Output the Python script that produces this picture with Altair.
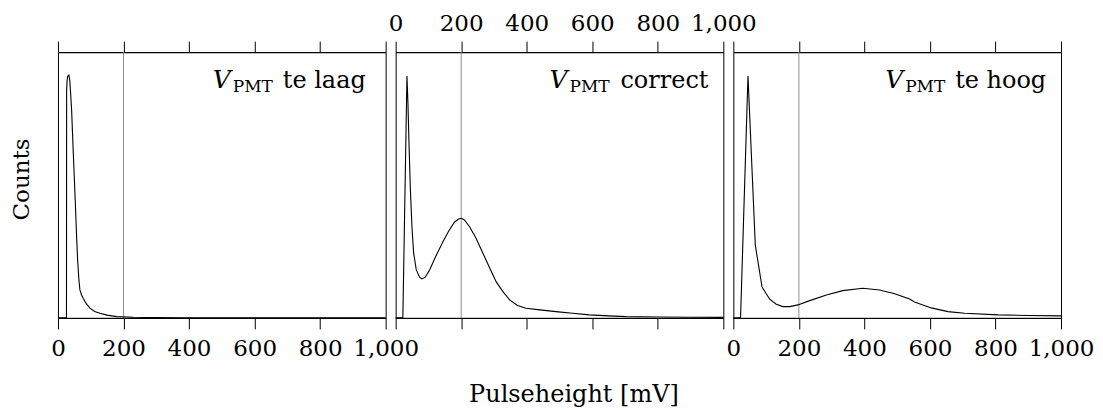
import altair as alt
import pandas as pd

# ---- data (pulse height in mV, counts in arbitrary units) ----
low_x = [0, 26, 26.5, 28, 30, 33.5, 36, 38.6, 41.7, 46.8, 51.8, 57, 60, 64, 67, 72, 77, 87,
         97.6, 112, 128, 150, 179, 230, 300, 380, 500, 700, 1000]
low_y = [0, 0, 228, 238, 242, 243, 238, 225, 208, 165, 125, 81, 58, 38, 28, 23, 19.7, 14,
         9.7, 6.5, 4.7, 2.8, 1.3, 0.6, 0.3, 0.1, 0, 0, 0]

ok_x = [0, 22, 34.5, 37.5, 40.7, 44.7, 49.8, 54.9, 63, 73, 80, 90, 103.7, 120, 144, 162, 180,
        192, 200, 210, 226, 245, 266, 287, 307, 328, 348, 372, 398, 440, 489, 540, 591, 650,
        703, 800, 900, 1000]
ok_y = [0, 0, 242, 215, 175, 131, 91, 65, 48, 40.7, 39, 40.5, 48, 60, 76, 87, 96,
        99, 99.7, 98, 91, 80, 65, 50, 36, 26, 18, 12.5, 9.7, 8, 6.3, 4.7, 3, 2,
        1.3, 0.9, 0.6, 0.5]

high_x = [0, 22, 44.7, 67, 87.5, 111, 131, 151, 172, 197, 233, 284, 334, 395, 446, 490, 538,
          553, 604, 655, 706, 808, 900, 1000]
high_y = [0, 0, 242, 73, 31, 18.7, 13.7, 11.3, 11.3, 13, 17.3, 23, 27.3, 29.7, 28, 24.5, 19,
          16, 10, 6.3, 4.7, 3, 2.4, 2]

panel_titles = ["te laag", "correct", "te hoog"]
tick_values = [0, 200, 400, 600, 800, 1000]
marker_x = [200]

# ---- style ----
FONT = "DejaVu Serif"
W, H = 328, 266
YMAX = 266
title_pos = [(155, 175, 225), (154, 174, 225), (152, 172, 222)]
xscale = alt.Scale(domain=[0, 1000], nice=False, zero=False)


def panel(xs, ys, rest, label_side, pos, first=False, xtitle=None):
    df = pd.DataFrame({"x": xs, "y": ys, "i": list(range(len(xs)))})
    bottom_kw = dict(orient="bottom", values=tick_values, format=",.0f", labels=(label_side == "bottom"),
                     tickSize=11, labelPadding=9, labelFlush=False, grid=False)
    if xtitle:
        bottom_kw.update(title=xtitle, titleX=178, titleY=84, titleAlign="center",
                         titleBaseline="alphabetic", titleFontSize=24)
    else:
        bottom_kw.update(title=None)
    top_axis = alt.Axis(orient="top", values=tick_values, format=",.0f", labels=(label_side == "top"),
                        tickSize=11, labelPadding=6, labelFlush=False, grid=False, title=None)
    if first:
        yaxis = alt.Axis(title="Counts", labels=False, ticks=False, domain=False, grid=False,
                         titleX=-29, titleY=127, titleAngle=270, titleAlign="center",
                         titleBaseline="alphabetic", titleFontSize=23)
    else:
        yaxis = None

    rule = alt.Chart(pd.DataFrame({"x": marker_x})).mark_rule(color="#909090", strokeWidth=1).encode(
        x=alt.X("x:Q", scale=xscale, axis=top_axis)
    )
    line = alt.Chart(df).mark_line(color="black", strokeWidth=1.1).encode(
        x=alt.X("x:Q", scale=xscale, axis=alt.Axis(**bottom_kw)),
        y=alt.Y("y:Q", scale=alt.Scale(domain=[0, YMAX], nice=False), axis=yaxis),
        order="i:Q",
    )
    vx, px, rx = pos
    t_v = alt.Chart(pd.DataFrame({"t": ["V"]})).mark_text(
        align="left", baseline="alphabetic", font=FONT, fontSize=25, fontStyle="italic", color="black"
    ).encode(text="t:N", x=alt.value(vx), y=alt.value(36))
    t_s = alt.Chart(pd.DataFrame({"t": ["PMT"]})).mark_text(
        align="left", baseline="alphabetic", font=FONT, fontSize=17, color="black"
    ).encode(text="t:N", x=alt.value(px), y=alt.value(40))
    t_r = alt.Chart(pd.DataFrame({"t": [rest]})).mark_text(
        align="left", baseline="alphabetic", font=FONT, fontSize=24, color="black"
    ).encode(text="t:N", x=alt.value(rx), y=alt.value(36))
    return alt.layer(rule, line, t_v, t_s, t_r).properties(width=W, height=H)


p1 = panel(low_x, low_y, panel_titles[0], "bottom", title_pos[0], first=True)
p2 = panel(ok_x, ok_y, panel_titles[1], "top", title_pos[1], xtitle="Pulseheight [mV]")
p3 = panel(high_x, high_y, panel_titles[2], "bottom", title_pos[2])

chart = alt.hconcat(p1, p2, p3, spacing=10, bounds="flush").properties(
    padding={"left": 2, "top": 3, "right": 0, "bottom": 0}
).configure_view(stroke="black", strokeWidth=1).configure_axis(
    labelFont=FONT, titleFont=FONT, labelFontSize=23, titleFontSize=24,
    labelColor="black", titleColor="black", tickColor="black", domainColor="black",
    tickWidth=1, domainWidth=1, titleFontWeight="normal"
)

chart.save("out.html", embed_options={"renderer": "svg", "actions": False})
